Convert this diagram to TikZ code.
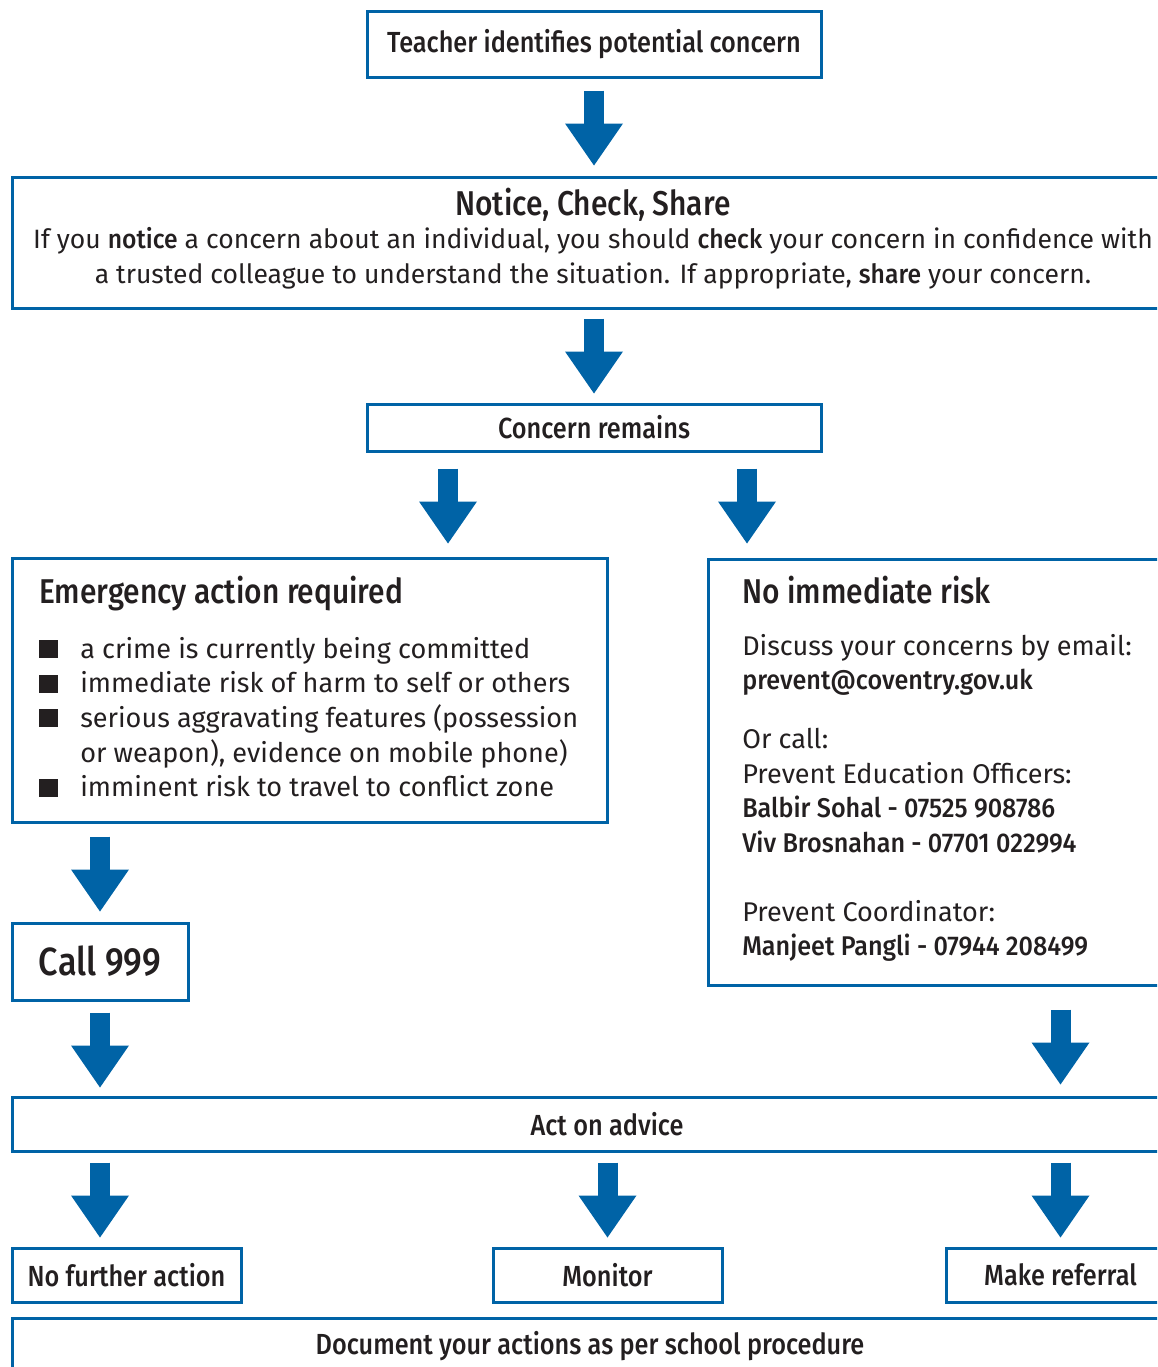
\documentclass[tikz,border=0pt]{standalone}
\usepackage{fontspec}
\setmainfont{Fira Sans}[BoldFont={Fira Sans Medium},BoldFeatures={FakeStretch=0.93}]
\newfontfamily\labelfont{Fira Sans Medium}[FakeStretch=0.87]
\usetikzlibrary{arrows.meta,positioning,calc,fit}
\definecolor{flowblue}{RGB}{0,99,166}
\definecolor{flowink}{RGB}{35,31,32}
\newcommand{\sqbullet}{\makebox[30.75pt][l]{\rule{14.25pt}{13.5pt}}}

\begin{document}
\begin{tikzpicture}[
    x=0.75pt, y=-0.75pt,
    box/.style={draw=flowblue, line width=2.25pt, inner sep=0pt, fit={#1}},
    lbl/.style={text=flowink, font=\labelfont\fontsize{21.8}{26}\selectfont},
    head/.style={text=flowink, font=\labelfont\fontsize{25.8}{30}\selectfont,
                 inner sep=0pt},
    body/.style={text=flowink, font=\fontsize{20.3}{26}\selectfont,
                 inner sep=0pt},
    bigarrow/.style={draw=flowblue, line width=15pt,
                     -{Triangle[width=43.5pt, length=31.5pt, line width=0pt]}}
  ]
  \useasboundingbox (0,0) rectangle (1157,1367);
  \clip (0,0) rectangle (1157,1367);

  % Boxes
  \node[box={(367,11) (821,77)},
        label={[lbl]center:Teacher identifies potential concern}] (teacher) {};
  \node[box={(12,177) (1176,308)}] (ncs) {};
  \node[box={(367,404) (821,451)},
        label={[lbl]center:Concern remains}] (concern) {};
  \node[box={(12,558) (607,822)}] (emerg) {};
  \node[box={(708,559) (1176,985)}] (norisk) {};
  \node[box={(12,923) (188,1000)},
        label={[text=flowink, font=\labelfont\fontsize{29.5}{34}\selectfont]center:Call 999}] (call) {};
  \node[box={(12,1097) (1176,1151)},
        label={[lbl, xshift=9.75pt]center:Act on advice}] (act) {};
  \node[box={(12,1248) (241,1302)}, label={[lbl]center:No further action}] (nofurther) {};
  \node[box={(493,1248) (722,1302)}, label={[lbl]center:Monitor}] (monitor) {};
  \node[box={(946,1248) (1175,1302)}, label={[lbl]center:Make referral}] (referral) {};
  \node[box={(12,1318) (1176,1375)},
        label={[lbl, xshift=-3pt]center:Document your actions as per school procedure}] (document) {};

  % Notice, check, share
  \node[body, font=\fontsize{19.9}{26.2}\selectfont, anchor=base] (ncstext) at (593,215) {%
    \begin{tabular}[t]{@{}c@{}}
      {\labelfont\fontsize{25.8}{30}\selectfont Notice, Check, Share}\\[-1pt]
      If you \textbf{notice} a concern about an individual, you should \textbf{check} your concern in confidence with\\
      a trusted colleague to understand the situation. If appropriate, \textbf{share} your concern.
    \end{tabular}};

  % Emergency action
  \node[head, anchor=base west] (emtitle) at (39,603) {Emergency action required};
  \node[body, anchor=base west] (emlist) at (39,658) {%
    \begin{tabular}[t]{@{}l@{}l@{}}
      \sqbullet & a crime is currently being committed\\
      \sqbullet & immediate risk of harm to self or others\\
      \sqbullet & serious aggravating features (possession\\
                & or weapon), evidence on mobile phone)\\
      \sqbullet & imminent risk to travel to conflict zone
    \end{tabular}};

  % No immediate risk
  \node[head, anchor=base west] (nrtitle) at (742,603) {No immediate risk};
  \node[body, anchor=base west] (nrtext) at (742,655) {%
    \begin{tabular}[t]{@{}l@{}}
      Discuss your concerns by email:\\
      \textbf{prevent@coventry.gov.uk}\\[18pt]
      Or call:\\
      Prevent Education Officers:\\
      \textbf{Balbir Sohal - 07525 908786}\\
      \textbf{Viv Brosnahan - 07701 022994}\\[25.5pt]
      Prevent Coordinator:\\
      \textbf{Manjeet Pangli - 07944 208499}
    \end{tabular}};

  % Arrows
  \draw[bigarrow, shorten <=9pt, shorten >=7.5pt] (teacher) -- (teacher |- ncs.north);
  \draw[bigarrow, shorten <=6.75pt, shorten >=6.75pt] (ncs.south -| concern) -- (concern);
  \draw[bigarrow, shorten <=12pt, shorten >=9.75pt]
       ([xshift=-109.5pt]concern.south) -- ([xshift=-109.5pt]concern.south |- emerg.north);
  \draw[bigarrow, shorten <=12pt, shorten >=10.5pt]
       ([xshift=114.75pt]concern.south) -- ([xshift=114.75pt]concern.south |- norisk.north);
  \draw[bigarrow, shorten <=9.75pt, shorten >=7.5pt] (emerg.south -| call) -- (call);
  \draw[bigarrow, shorten <=8.25pt, shorten >=6pt] (call) -- (call |- act.north);
  \draw[bigarrow, shorten <=17.25pt, shorten >=8.25pt] (norisk.south -| referral) -- (referral |- act.north);
  \draw[bigarrow, shorten <=7.5pt, shorten >=6.75pt] (act.south -| call) -- (call |- nofurther.north);
  \draw[bigarrow, shorten <=7.5pt, shorten >=6.75pt] (act.south -| monitor) -- (monitor);
  \draw[bigarrow, shorten <=7.5pt, shorten >=6.75pt] (act.south -| referral) -- (referral);
\end{tikzpicture}
\end{document}
